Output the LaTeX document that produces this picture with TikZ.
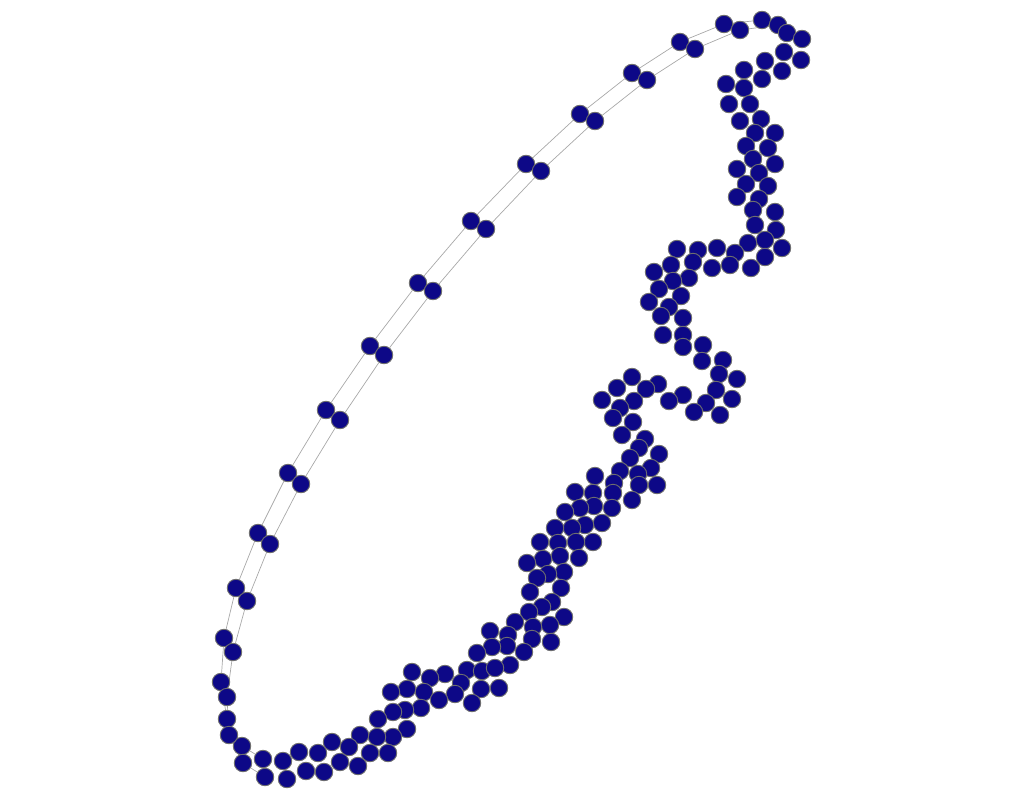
\documentclass[tikz,border=0pt]{standalone}
\usetikzlibrary{backgrounds}
\definecolor{vfill}{HTML}{0D0887}
\definecolor{vline}{HTML}{6E6E6E}
\definecolor{eline}{HTML}{A8A8A8}
\tikzset{
  v/.style={circle,fill=vfill,draw=vline,line width=0.9pt,minimum size=17.5pt,inner sep=0pt},
  e/.style={draw=eline,line width=0.7pt}
}
\begin{document}
\begin{tikzpicture}[x=1pt,y=-1pt]
\useasboundingbox (0,0) rectangle (1024,800);
% outer chain of the long arc
\foreach \n/\x/\y in {o1/724/24,o2/680/42,o3/632/73,o4/580/114,o5/526/164,o6/471/221,o7/418/283,o8/370/346,o9/326/410,o10/288/473,o11/258/533,o12/236/588,o13/224/638,o14/221/682,o15/227/719,o16/242/746,o17/263/759}
  \node[v] (\n) at (\x,\y) {};
% inner chain of the long arc
\foreach \n/\x/\y in {i1/740/30,i2/695/49,i3/647/80,i4/595/121,i5/541/171,i6/486/229,i7/433/291,i8/384/355,i9/340/420,i10/301/484,i11/270/544,i12/247/601,i13/233/652,i14/227/697,i15/229/735,i16/243/763,i17/265/777}
  \node[v] (\n) at (\x,\y) {};
% dense part
\foreach \x/\y [count=\k] in {762/20,778/25,787/33,802/39,784/52,801/60,765/61,782/71,744/70,762/79,726/84,744/88,729/104,750/104,740/121,761/119,755/133,775/133,746/146,768/148,753/159,775/164,737/169,759/173,746/184,768/186,737/197,759/199,
753/210,775/212,755/225,776/230,748/243,765/240,782/248,765/257,735/253,717/248,730/265,751/268,712/268,698/250,677/249,693/262,671/265,654/272,689/278,673/281,659/289,681/296,649/302,669/307,661/316,683/318,663/335,683/335,683/347,703/345,
702/361,723/360,719/374,737/379,716/390,732/399,706/403,720/415,694/412,683/395,669/401,658/384,646/389,632/377,617/388,602/400,634/401,620/408,613/418,633/422,622/435,645/439,639/448,659/454,630/458,651/468,620/471,638/474,595/476,614/483,639/485,657/485,593/493,613/493,632/500,594/506,612/508,
575/492,580/508,565/512,602/523,585/525,572/528,555/528,593/542,576/542,558/543,540/542,579/558,560/556,543/559,527/563,564/572,548/574,537/578,561/588,530/592,552/602,542/607,564/617,529/612,550/625,533/627,515/622,508/635,532/639,551/642,507/646,524/652,
490/631,492/647,477/653,510/665,467/670,482/671,495/668,481/689,499/688,461/683,455/694,472/703,445/674,430/678,412/672,407/689,424/692,439/700,421/708,405/710,391/692,393/712,378/719,407/729,393/737,377/737,360/735,370/753,388/753,
283/761,287/779,299/752,306/771,318/753,324/772,332/742,340/762,349/747,358/766}
  \node[v] (d\k) at (\x,\y) {};
\begin{pgfonlayer}{background}
\draw[e] (d1) -- (o1) -- (o2) -- (o3) -- (o4) -- (o5) -- (o6) -- (o7) -- (o8) -- (o9) -- (o10) -- (o11) -- (o12) -- (o13) -- (o14) -- (o15) -- (o16) -- (o17);
\draw[e] (d2) -- (i1) -- (i2) -- (i3) -- (i4) -- (i5) -- (i6) -- (i7) -- (i8) -- (i9) -- (i10) -- (i11) -- (i12) -- (i13) -- (i14) -- (i15) -- (i16) -- (i17);
\foreach \k in {1,...,17} \draw[e] (o\k) -- (i\k);
\end{pgfonlayer}
\end{tikzpicture}
\end{document}
